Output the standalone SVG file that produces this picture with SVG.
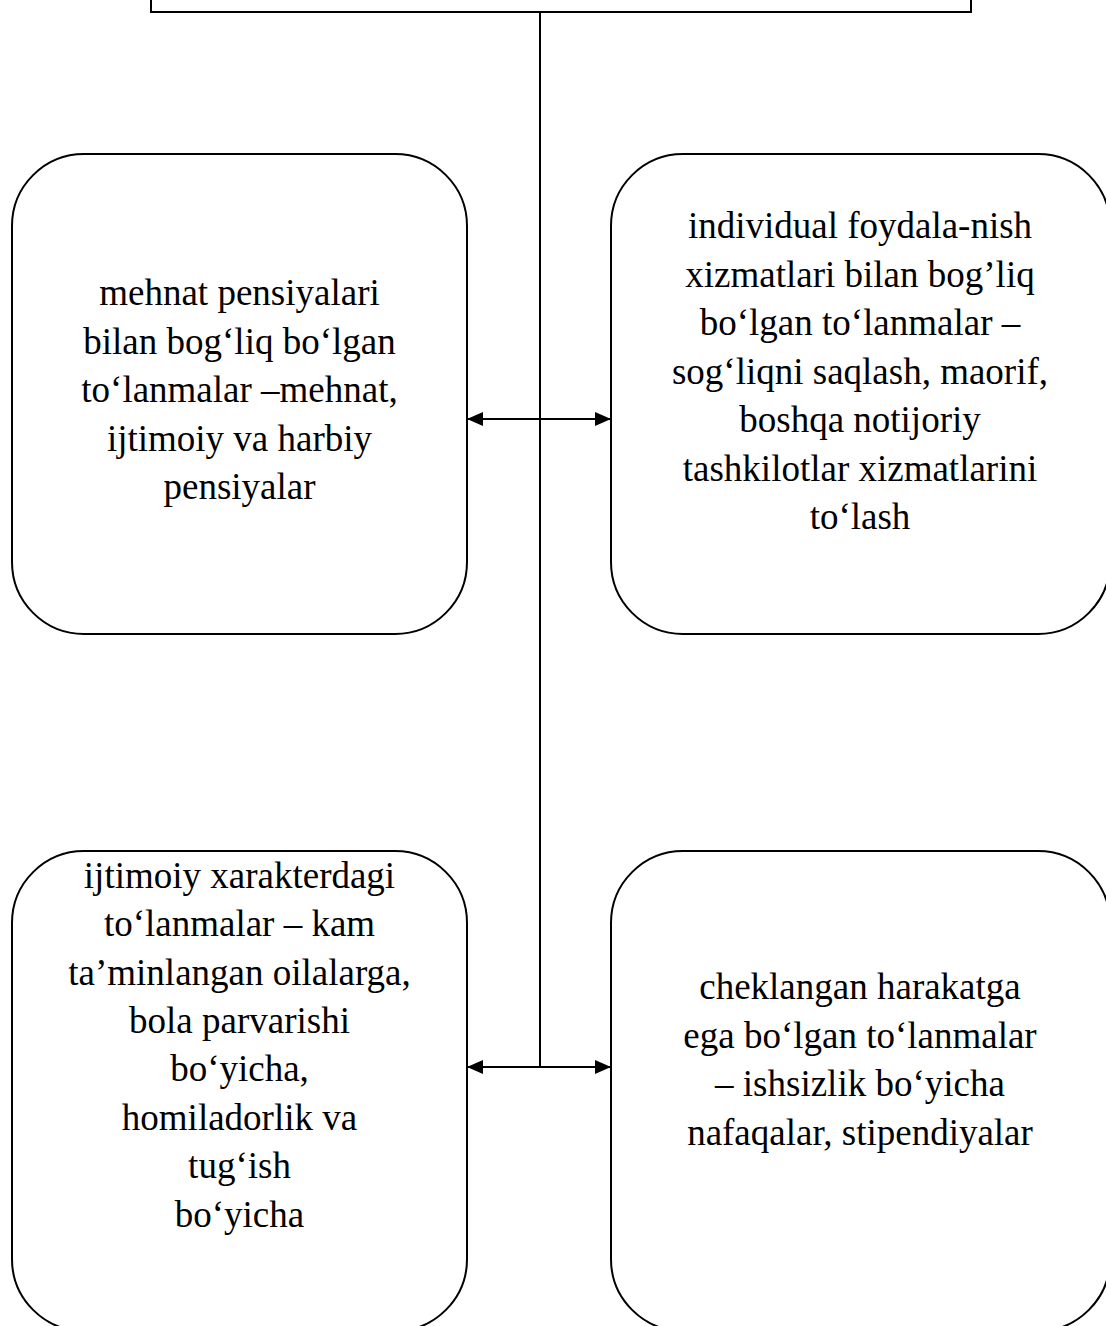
<svg xmlns="http://www.w3.org/2000/svg" width="1106" height="1326" viewBox="0 0 1106 1326">
<style>
.box{fill:#fff;stroke:#000;stroke-width:2}
.conn{stroke:#000;stroke-width:2;fill:none}
.t{font-family:"Liberation Serif","Times New Roman",serif;font-size:37px;fill:#000;text-anchor:middle}
</style>
<defs>
<marker id="ah" viewBox="0 0 16 14" refX="16" refY="7" markerWidth="16" markerHeight="14" markerUnits="userSpaceOnUse" orient="auto-start-reverse">
<path d="M0,0 L16,7 L0,14 Z" fill="#000"/>
</marker>
</defs>
<rect width="1106" height="1326" fill="#fff"/>
<g id="top">
<rect class="box" x="151" y="-20" width="820" height="32"/>
</g>
<g id="n1">
<rect class="box" x="12" y="154" width="455" height="480" rx="72" ry="72"/>
<text class="t" x="239.5"><tspan x="239.5" y="305">mehnat pensiyalari</tspan><tspan x="239.5" y="354">bilan bog‘liq bo‘lgan</tspan><tspan x="239.5" y="402">to‘lanmalar –mehnat,</tspan><tspan x="239.5" y="451">ijtimoiy va harbiy</tspan><tspan x="239.5" y="499">pensiyalar</tspan></text>
</g>
<g id="n2">
<rect class="box" x="611" y="154" width="499" height="480" rx="72" ry="72"/>
<text class="t"><tspan x="860" y="238">individual foydala-nish</tspan><tspan x="860" y="287">xizmatlari bilan bog’liq</tspan><tspan x="860" y="335">bo‘lgan to‘lanmalar –</tspan><tspan x="860" y="384">sog‘liqni saqlash, maorif,</tspan><tspan x="860" y="432">boshqa notijoriy</tspan><tspan x="860" y="481">tashkilotlar xizmatlarini</tspan><tspan x="860" y="529">to‘lash</tspan></text>
</g>
<g id="n3">
<rect class="box" x="12" y="851" width="455" height="480" rx="72" ry="72"/>
<text class="t"><tspan x="239.5" y="888">ijtimoiy xarakterdagi</tspan><tspan x="239.5" y="936">to‘lanmalar – kam</tspan><tspan x="239.5" y="985">ta’minlangan oilalarga,</tspan><tspan x="239.5" y="1033">bola parvarishi</tspan><tspan x="239.5" y="1081">bo‘yicha,</tspan><tspan x="239.5" y="1130">homiladorlik va</tspan><tspan x="239.5" y="1178">tug‘ish</tspan><tspan x="239.5" y="1227">bo‘yicha</tspan></text>
</g>
<g id="n4">
<rect class="box" x="611" y="851" width="499" height="480" rx="72" ry="72"/>
<text class="t"><tspan x="860" y="999">cheklangan harakatga</tspan><tspan x="860" y="1048">ega bo‘lgan to‘lanmalar</tspan><tspan x="860" y="1096">– ishsizlik bo‘yicha</tspan><tspan x="860" y="1145">nafaqalar, stipendiyalar</tspan></text>
</g>
<g id="connectors">
<line class="conn" x1="540" y1="12" x2="540" y2="1067"/>
<line class="conn" x1="467" y1="419" x2="611" y2="419" marker-start="url(#ah)" marker-end="url(#ah)"/>
<line class="conn" x1="467" y1="1067" x2="611" y2="1067" marker-start="url(#ah)" marker-end="url(#ah)"/>
</g>
</svg>
